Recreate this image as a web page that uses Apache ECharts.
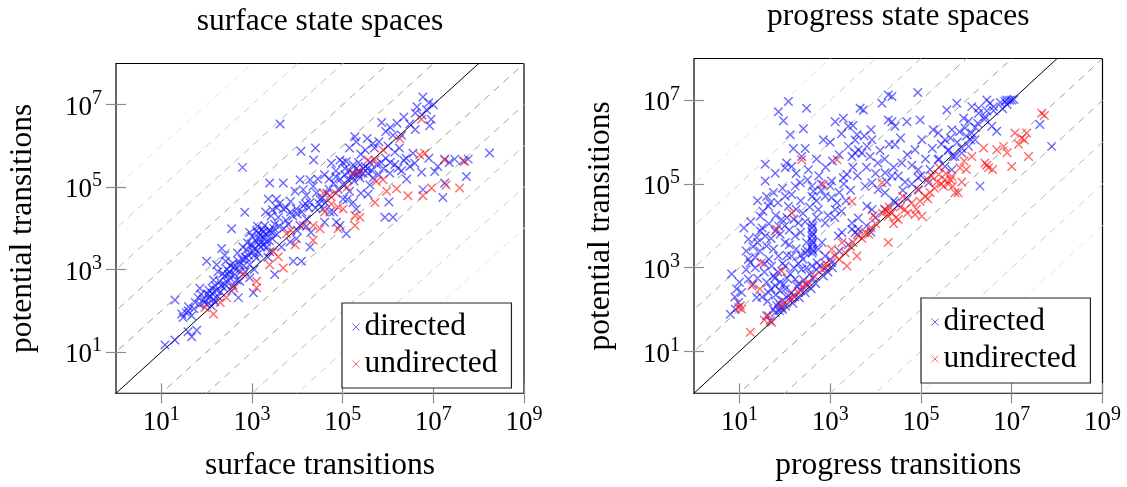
<!DOCTYPE html>
<html>
<head>
<meta charset="utf-8">
<script src="https://cdn.jsdelivr.net/npm/echarts@6/dist/echarts.min.js"></script>
<style>
html,body{margin:0;padding:0;background:#fff;}
#chart{width:1127px;height:487px;}
</style>
</head>
<body>
<div id="chart"></div>
<script>
// ---- data (log10 exponents: [log10(x), log10(y)]) ----
const panelTitles = ['surface state spaces', 'progress state spaces'];
const xAxisNames = ['surface transitions', 'progress transitions'];
const yAxisName = 'potential transitions';
const seriesNames = ['directed', 'undirected'];
const xTickExps = [1, 3, 5, 7, 9];
const yTickExps = [1, 3, 5, 7];
const diagOffsets = [-5, -4, -3, -2, -1, 1, 2, 3, 4, 5];

const surfaceDirected = [
[1.08,1.17],[1.30,1.29],[1.59,1.49],[1.67,1.37],[1.78,1.53],[1.30,2.26],[1.45,1.92],[1.59,2.00],[1.67,1.88],[1.48,1.84],[1.55,1.95],[1.72,2.05],
[1.81,2.32],[1.93,2.28],[2.07,2.36],[2.00,2.16],[2.15,2.28],[1.88,2.40],[2.05,2.50],[1.95,2.20],[2.10,2.12],[1.85,2.15],
[2.00,3.20],[2.22,3.12],[2.33,3.51],[2.40,3.35],[2.29,2.72],[2.40,2.64],[2.51,2.80],[2.62,2.88],[2.73,2.72],[2.55,2.48],[2.70,2.32],[2.35,2.90],[2.45,3.00],[2.60,3.05],[2.20,2.60],[2.30,2.45],
[2.84,4.39],[2.55,3.99],[2.88,3.28],[2.95,3.12],[3.03,3.43],[3.10,3.28],[3.03,2.44],[2.85,2.95],[2.95,2.80],[3.05,3.00],[2.80,3.55],[2.90,3.65],[3.00,3.80],
[3.17,3.75],[3.25,3.91],[3.32,3.67],[3.28,4.07],[3.39,3.43],[3.20,3.55],[3.30,3.85],[3.22,3.98],[3.35,3.30],[3.15,3.40],[3.45,3.75],[3.12,4.05],[3.40,3.95],
[3.39,5.10],[3.36,4.71],[3.54,4.71],[3.69,5.10],[3.69,4.47],[3.58,4.27],[3.50,2.88],[3.84,3.67],[3.98,3.75],[3.91,3.20],[4.09,3.20],[3.60,4.05],[3.75,4.20],[3.85,4.40],[3.65,3.55],
[4.06,5.18],[4.28,5.18],[4.13,4.94],[4.35,5.02],[4.42,4.86],[3.98,4.47],[4.13,4.55],[4.28,4.63],[4.06,4.07],[4.20,4.23],[4.28,3.55],[4.20,4.80],[3.95,4.90],[4.50,4.70],
[4.08,5.87],[4.40,5.95],[4.36,5.66],[3.62,6.53],[2.79,5.48],
[4.57,4.47],[4.86,4.15],[4.94,4.07],[5.08,3.87],[5.01,4.71],[5.23,4.63],[5.30,4.47],[4.72,4.40],[4.65,4.85],[4.90,4.95],[5.15,4.90],
[4.75,5.58],[4.94,5.66],[5.08,5.62],[5.23,5.54],[5.30,6.10],[5.54,6.18],[5.67,6.06],[5.27,6.22],[5.15,5.95],[4.85,5.40],[5.40,5.80],
[5.23,5.34],[5.34,5.38],[5.45,5.34],[5.38,5.22],[5.12,5.18],[5.01,5.06],[5.56,5.34],[5.67,5.22],[5.50,5.50],[5.60,5.60],[5.30,5.45],[5.20,5.25],
[5.86,6.57],[6.11,6.26],[6.30,6.26],[6.04,5.34],[6.22,5.46],[5.56,4.83],[6.48,5.50],[6.59,5.58],[6.55,5.82],[6.41,5.19],[6.02,4.64],[5.93,4.27],[6.11,4.27],[5.95,5.70],[6.15,5.85],[6.35,5.65],[6.00,6.00],[6.25,5.95],
[6.48,6.53],[6.92,6.49],[6.77,7.19],[6.60,6.80],[6.64,6.95],[6.85,6.88],[7.00,7.00],[6.90,7.05],[6.75,6.75],[6.95,6.65],[6.60,6.40],
[6.77,4.94],[7.21,4.75],[7.25,5.10],[7.73,5.26],[7.03,5.38],[6.74,5.36],[7.25,5.68],[7.47,5.68],[7.66,5.64],[7.77,5.68],[8.24,5.83],[7.10,5.50],[6.90,5.70],[7.35,5.60],
[2.05,2.30],[2.12,2.42],[2.18,2.22],[2.25,2.35],[2.38,2.55],[2.45,2.70],[2.50,2.95],[2.58,2.62],[2.66,2.75],[2.75,2.95],[2.82,3.10],[2.92,3.35],[3.00,3.55],[3.08,3.70],[3.14,3.88],[3.20,3.65],[3.26,3.78],[3.33,3.55],[3.38,3.70],[3.44,3.90],[3.50,4.10],[3.55,3.85],[3.70,4.00],[3.80,4.10],[3.90,4.30],[4.00,4.35],[4.10,4.40],[4.18,4.60],[4.25,4.50],[4.40,4.50],[4.48,4.60],[4.55,4.75],[4.62,4.62],[4.70,4.95],[4.80,5.10],[4.95,5.20],[5.05,5.30],[5.15,5.40],[5.25,5.15],[5.35,5.30],[5.45,5.45],[5.55,5.45],[5.65,5.40],[5.75,5.55],[5.85,5.60],[5.90,5.45],[6.05,5.60],[6.15,5.55],[6.30,5.40],[6.40,5.70],[5.50,5.90],[5.70,5.95],[5.80,6.10],[5.95,6.35],[6.05,6.45],[6.20,6.55],[6.35,6.70],[1.75,2.20],[1.60,2.10],[1.85,2.55],[2.15,2.75],[2.25,2.95],[2.42,3.20],[2.68,3.40],[2.78,3.25],[3.42,4.30],[3.30,4.40],[3.60,4.60],[3.85,4.65],[4.45,5.20],[4.60,5.30],[5.00,5.60],[4.00,3.95],[4.20,4.05],[4.30,3.90],[4.60,4.15],[4.80,4.40],[5.10,4.70],[5.40,4.85],[5.60,5.05],[5.80,5.30],
[2.02,2.40],[2.12,2.55],[2.22,2.50],[2.32,2.62],[2.48,2.88],[2.58,3.15],[2.65,3.00],[2.72,3.12],[2.88,3.48],[2.98,3.62],[3.06,3.52],[3.18,3.85],[3.24,3.60],[3.36,3.92],[3.48,4.00],[3.10,3.95],[2.95,3.90],
[2.40,2.85],[2.52,3.10],[2.70,3.20],[2.85,3.30],[3.05,3.35],[3.15,3.60],[3.45,4.45],[3.55,4.50],[3.75,4.50],[4.70,5.20],[4.85,5.25],[5.05,5.45],[5.35,5.60]
];
const surfaceUndirected = [
[1.96,2.08],[2.15,1.92],[2.44,2.32],[2.81,2.88],[3.10,2.72],[3.10,2.56],[3.47,3.43],[3.58,3.31],[3.39,3.12],[3.69,3.04],[3.76,3.87],[3.86,3.95],[4.13,4.07],[4.35,4.07],[4.50,3.99],[4.35,3.71],[4.57,4.86],[4.72,4.79],[4.85,4.85],[4.75,4.59],[4.90,4.51],[5.01,4.47],[4.90,3.99],[5.27,4.31],[5.38,4.27],[5.27,4.07],[5.23,5.34],[5.38,5.38],[5.56,5.66],[5.71,5.66],[5.89,5.90],[6.26,6.18],[5.74,5.14],[5.89,5.18],[5.71,4.63],[6.19,4.96],[5.97,4.90],[6.44,4.79],[6.77,4.79],[6.96,4.98],[7.58,4.98],[7.28,5.05],[6.81,5.82],[6.70,5.78],[6.74,6.65],[7.25,5.66],[7.69,5.62],[2.60,2.55],[3.95,3.60],[4.60,4.40],[5.10,5.00],[2.30,2.20]
];
const progressDirected = [
[1.86,6.73],[2.08,6.97],[1.97,6.51],[2.48,6.81],[2.12,6.18],[2.41,6.32],[2.19,5.85],[1.57,5.47],[1.57,5.07],[1.79,5.26],[2.01,5.39],[2.15,5.42],[2.04,5.50],[2.37,5.66],[1.68,4.55],[1.46,4.23],
[4.28,7.13],[4.36,7.09],[4.93,7.19],[3.66,6.81],[3.73,6.77],[4.14,6.93],[4.36,6.49],[4.43,6.38],[4.28,6.53],[4.69,6.49],[4.98,6.53],[3.11,6.49],[3.29,6.57],[3.40,6.38],[3.59,6.18],[2.85,6.06],
[5.57,6.77],[5.79,6.93],[5.94,6.57],[6.12,6.85],[6.27,6.81],[6.45,7.01],[6.52,6.93],[6.89,7.01],[7.00,7.01],[7.62,6.42],[7.88,5.90],[6.30,4.95],
[1.20,3.68],[1.38,3.72],[1.46,3.88],[1.20,3.20],[1.24,3.12],[1.57,3.76],[1.60,3.52],[1.20,2.73],[0.83,2.85],[0.94,2.49],[1.05,2.41],[0.80,1.89],[0.91,2.01],[0.98,2.17],[1.38,2.29],[1.60,1.85],[1.68,1.73],
[3.62,5.82],[3.70,5.74],[3.81,5.90],[3.88,5.66],[3.48,5.66],[3.55,5.74],[3.92,6.06],[4.43,5.94],[3.29,5.15],[3.37,5.23],[3.03,5.07],
[2.52,5.34],[2.60,4.95],[2.63,4.83],[2.23,4.95],[2.34,5.03],[2.01,4.71],[2.08,4.47],[2.89,4.71],[3.03,4.67],[2.74,4.39],[3.11,4.39],[2.89,4.07],
[3.92,5.03],[3.77,4.95],[4.06,4.87],[4.21,5.27],[4.36,5.19],[4.58,5.50],[4.50,5.19],[4.94,5.34],[4.94,5.15],[4.87,5.82],[5.02,6.06],
[3.48,4.07],[3.62,3.92],[3.81,4.47],[3.92,4.39],[4.21,4.79],[4.43,4.55],
[5.27,6.30],[5.38,6.22],[5.68,6.30],[5.53,6.06],[5.61,5.82],[5.75,5.66],[5.90,5.74],[6.05,5.90],[6.19,6.06],[5.97,6.34],[6.12,6.22],[6.27,6.69],[6.41,6.61],[6.56,6.38],[6.67,6.26],
[5.38,5.58],[5.53,5.42],[5.68,5.34],[5.17,5.03],[4.94,4.87],
[2.74,3.44],[2.82,3.60],[2.89,3.28],[2.60,3.04],[2.71,3.12],[3.18,3.76],[3.26,3.84],[3.48,3.92],[3.55,3.84],[3.62,4.19],[3.03,3.12],
[2.23,2.73],[2.30,2.61],[2.01,2.49],[2.08,2.33],[1.86,2.17],[1.93,2.05],[1.79,1.93],[1.90,2.65],[1.79,2.57],[2.01,3.04],[2.15,3.28],[1.86,3.28],[1.71,3.04],[1.75,2.81],[1.60,2.65],[1.64,2.41],[2.37,2.96],[2.45,3.36],[2.48,3.60],[2.23,3.76],[2.01,3.60],[2.30,4.07],[1.64,4.47],[1.93,4.15],[1.79,3.88],[1.86,4.00],
[2.60,3.35],[2.60,3.45],[2.60,3.55],[2.60,3.65],[2.60,3.75],[2.60,3.85],[2.60,3.95],[2.60,4.05],[2.62,3.40],[2.62,3.60],[2.62,3.80],[2.62,4.00],
[1.75,2.00],[1.82,2.10],[1.88,1.98],[1.95,2.22],[2.02,2.08],[2.08,2.25],[2.15,2.40],[2.22,2.30],[2.28,2.55],[2.35,2.45],[2.42,2.70],[2.50,2.58],[2.55,2.85],[2.62,2.75],[2.70,2.95],[2.78,3.05],[1.80,2.35],[1.90,2.45],[1.98,2.60],[2.05,2.75],[2.12,2.85],[2.20,3.00],[2.30,3.10],[2.40,3.20],[2.48,3.00],[1.70,2.50],[1.78,2.75],[1.85,2.90],[1.95,3.10],[2.05,3.30],[2.25,3.45],[2.35,3.30],[2.50,3.40],[1.65,3.20],[1.75,3.45],[2.10,3.55],[1.95,2.00],[2.18,2.15],[2.32,2.28],[2.45,2.40],[2.58,2.50],[2.68,2.62],[2.85,2.80],[2.95,2.90],[3.05,3.00],[1.55,2.90],[1.40,2.75],[1.30,2.60],[1.50,2.30],[1.35,3.00],[1.62,2.20],
[1.30,3.50],[1.45,3.40],[1.70,3.70],[1.90,3.80],[2.00,4.00],[2.20,4.15],[2.40,4.30],[2.55,4.45],[2.70,4.60],[2.35,4.60],[2.15,4.75],[1.95,4.90],[2.50,5.10],[2.75,5.20],[2.90,5.40],[3.05,5.55],[3.20,5.70],[3.40,5.90],[3.55,6.05],[3.75,6.15],[3.90,6.30],[4.05,5.50],[4.20,5.60],[4.10,5.80],[3.30,5.00],[3.45,4.85],[3.15,4.55],[2.95,4.25],[3.60,5.20],[3.80,5.40],[4.30,5.95],[4.55,6.10],[4.70,5.70],[4.80,5.45],[5.10,5.60],[5.25,5.85],[5.45,5.95],[5.65,6.10],[5.85,6.25],[6.05,6.50],[6.25,6.45],[6.45,6.75],[6.60,6.85],[6.75,6.95],[6.85,6.98],[6.95,7.00],[7.05,7.02],[6.90,6.90],[6.80,6.80],
[3.20,3.40],[3.40,3.55],[3.60,3.80],[3.80,4.00],[4.00,4.20],[4.20,4.40],[4.40,4.60],[4.60,4.85],[4.80,5.00],[5.00,5.20],[5.20,5.35],[5.40,5.60],[5.60,5.80],[5.80,6.00],[6.00,6.15],[6.20,6.35],[6.40,6.55],[6.60,6.75],[5.90,5.85],[5.70,5.65],[6.10,6.05],[4.50,4.50],[4.70,4.65],[3.90,3.85],[3.00,3.20],[2.90,3.00],
[1.10,3.95],[1.25,4.10],[1.52,4.35],[1.75,4.80],[1.40,4.60],[2.25,5.25],[2.70,5.60],[2.45,5.85],[3.00,6.00],[3.25,6.20],[3.50,6.40],[2.80,5.00],[3.50,5.40],[4.00,5.25],[4.25,5.05],[4.65,5.05],[4.40,5.40],[1.55,3.10],[1.35,3.25],[1.15,2.95],[1.00,2.65],[0.90,2.30],
[1.50,3.95],[1.65,4.05],[1.80,4.25],[2.05,4.20],[2.25,4.40],[2.45,4.10],[2.10,3.90],[2.35,3.85],[1.60,4.70],[1.85,4.55],[2.60,4.70],[2.80,4.85],[3.00,4.95],[3.20,4.80],[3.35,4.60],[3.10,4.20],[3.25,4.35],[2.70,4.20],[1.40,3.60],[1.15,3.40]
];
const progressUndirected = [
[7.66,6.69],[7.72,6.64],[7.07,6.22],[7.22,6.10],[7.33,6.22],[7.37,5.66],[7.00,5.42],[6.41,5.50],[6.49,5.39],[6.58,5.35],[6.67,5.82],[6.82,5.90],[6.12,5.66],[6.38,5.86],[6.90,5.75],[7.15,5.95],[7.28,6.05],[6.45,5.45],
[5.24,5.19],[5.39,5.23],[5.53,5.10],[5.68,5.18],[5.75,4.79],[5.82,4.79],[5.86,5.39],[4.98,4.59],[5.09,4.71],[4.87,4.27],[5.02,4.23],[5.30,4.90],[5.45,5.00],[5.60,5.00],[5.20,4.80],[5.95,5.55],[5.40,5.40],
[4.21,4.39],[4.28,4.23],[4.36,4.31],[4.50,4.15],[4.28,3.60],[4.14,5.03],[3.48,4.59],[4.60,4.70],[4.30,4.45],[4.15,4.30],[4.40,4.05],[4.65,4.40],[4.80,4.55],[3.90,3.95],[4.00,4.05],
[3.77,3.84],[3.62,3.76],[3.26,3.60],[3.33,3.36],[3.03,3.44],[3.11,3.28],[2.82,2.96],[2.52,2.65],[2.30,2.41],[2.15,2.25],[2.01,2.17],[1.64,1.85],[1.71,1.69],[1.02,2.09],[1.05,2.01],[1.24,1.46],[3.59,3.28],[3.37,3.04],[2.90,3.10],[3.45,3.50],[2.65,2.80],[2.40,2.55],[2.20,2.35],[1.90,2.10],[1.55,1.75],[3.70,3.70],[3.20,3.20],
[3.15,5.58],[2.37,5.58],[2.85,4.99],[2.15,4.31],[1.82,3.92],[1.49,3.12],[1.93,2.92],[1.27,2.57],[1.45,2.49],[0.98,2.05],
[5.50,4.95],[5.65,5.10],[5.15,4.65],[4.90,4.40],[4.45,4.20],[4.25,4.35],[3.85,3.80],[3.50,3.60],[2.95,3.05],[2.45,2.60],
[5.35,5.05],[5.55,5.25],[5.70,4.95],[5.90,5.05],[6.00,5.35],[4.95,4.85],[5.15,5.10],[4.70,4.30],[4.55,4.45],[3.95,4.25]
];

// ---- styling ----
const FONT = 'Liberation Serif';
const CROSS = 'path://M0,0L10,10M10,0L0,10';
const BLUE = 'rgba(20,20,255,0.8)';
const RED = 'rgba(255,20,20,0.8)';
const diagGray = {1:'#999999',2:'#a4a4a4',3:'#b8b8b8',4:'#d0d0d0',5:'#e2e2e2'};

const grids = [
  {left:116, top:63.5, width:408, height:335.5},
  {left:694, top:58.5, width:408.5, height:336}
];

function tickLabel(v){ return '{b|10}{s|' + v + '}'; }
const richTick = {
  b:{fontFamily:FONT, fontSize:27, lineHeight:27, color:'#000', padding:[6,0,0,0]},
  s:{fontFamily:FONT, fontSize:20, lineHeight:20, color:'#000', padding:[0,0,12,0]}
};
const tickStyle = {show:true, inside:true, length:10, lineStyle:{color:'#8c8c8c', width:1.2}};

const xAxes = [], yAxes = [], series = [], titles = [], legends = [];
const dataSets = [[surfaceDirected, surfaceUndirected],[progressDirected, progressUndirected]];

for (let g = 0; g < 2; g++) {
  xAxes.push({type:'value', gridIndex:g, min:0, max:9, position:'bottom',
    axisLine:{show:false}, splitLine:{show:false},
    axisTick:Object.assign({customValues:xTickExps}, tickStyle),
    axisLabel:{customValues:xTickExps, formatter:tickLabel, rich:richTick, margin:13.5},
    name:xAxisNames[g], nameLocation:'middle', nameGap:57,
    nameTextStyle:{fontFamily:FONT, fontSize:31.5, color:'#000', lineHeight:31.5}});
  xAxes.push({type:'value', gridIndex:g, min:0, max:9, position:'top',
    axisLine:{show:false}, splitLine:{show:false},
    axisTick:Object.assign({customValues:xTickExps}, tickStyle),
    axisLabel:{show:false}});
  yAxes.push({type:'value', gridIndex:g, min:0, max:8, position:'left',
    axisLine:{show:false}, splitLine:{show:false},
    axisTick:Object.assign({customValues:yTickExps}, tickStyle),
    axisLabel:{customValues:yTickExps, formatter:tickLabel, rich:richTick, margin:14},
    name:yAxisName, nameLocation:'middle', nameGap:78,
    nameTextStyle:{fontFamily:FONT, fontSize:31.5, color:'#000', lineHeight:31.5}});
  yAxes.push({type:'value', gridIndex:g, min:0, max:8, position:'right',
    axisLine:{show:false}, splitLine:{show:false},
    axisTick:Object.assign({customValues:yTickExps}, tickStyle),
    axisLabel:{show:false}});

  const xi = g*2, yi = g*2;
  // reference lines y = x * 10^k
  diagOffsets.forEach(k => {
    series.push({type:'line', xAxisIndex:xi, yAxisIndex:yi, silent:true, symbol:'none',
      data:[[-1,-1+k],[10,10+k]], clip:true,
      lineStyle:{color:diagGray[Math.abs(k)], width:1, type:[7,6]}, z:1});
  });
  series.push({type:'line', xAxisIndex:xi, yAxisIndex:yi, silent:true, symbol:'none',
    data:[[-1,-1],[10,10]], clip:true, lineStyle:{color:'#000', width:1}, z:1});

  const cols = [BLUE, RED];
  for (let s = 0; s < 2; s++) {
    series.push({type:'scatter', name:seriesNames[s], xAxisIndex:xi, yAxisIndex:yi,
      symbol:CROSS, symbolSize:8.5, data:dataSets[g][s], z:2+s,
      itemStyle:{color:'transparent', borderColor:cols[s], borderWidth:1.4}});
  }

  titles.push({text:panelTitles[g], left:grids[g].left + grids[g].width/2, textAlign:'center',
    top:grids[g].top - 58, padding:0,
    textStyle:{fontFamily:FONT, fontSize:31.5, fontWeight:'normal', color:'#000', lineHeight:31.5}});

  legends.push({orient:'vertical', left:[342, 921][g], top:[303, 298][g],
    padding:[7,14,7,10], itemGap:3, itemWidth:7, itemHeight:7,
    backgroundColor:'#fff', borderColor:'#222', borderWidth:1.2, borderRadius:0,
    selectedMode:false,
    textStyle:{fontFamily:FONT, fontSize:31.5, color:'#000', lineHeight:34},
    data:[
      {name:'directed', icon:CROSS, itemStyle:{color:'transparent', borderColor:BLUE, borderWidth:1}},
      {name:'undirected', icon:CROSS, itemStyle:{color:'transparent', borderColor:RED, borderWidth:1}}
    ]});
}

const chart = echarts.init(document.getElementById('chart'), null, {renderer:'canvas'});
chart.setOption({
  animation:false,
  backgroundColor:'#fff',
  title:titles,
  legend:legends,
  grid:grids.map(g => Object.assign({show:true, borderColor:'#000', borderWidth:1.2, backgroundColor:'transparent', containLabel:false}, g)),
  xAxis:xAxes,
  yAxis:yAxes,
  series:series
});
</script>
</body>
</html>
